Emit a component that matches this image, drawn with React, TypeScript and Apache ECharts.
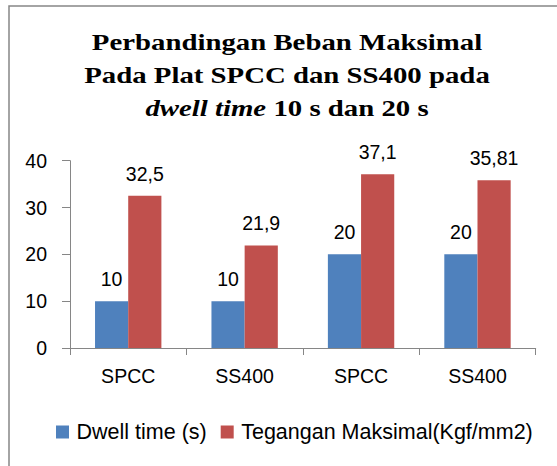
import React, { useEffect, useRef } from "react";
import * as echarts from "echarts";

const categories = ["SPCC", "SS400", "SPCC", "SS400"];
const dwellTime = [10, 10, 20, 20];
const teganganMaks = [32.5, 21.9, 37.1, 35.81];
const seriesNames = ["Dwell time (s)", "Tegangan Maksimal(Kgf/mm2)"];
const yTicks = { min: 0, max: 40, interval: 10 };

const SANS = '"Liberation Sans", Arial, sans-serif';
const SERIF = '"Liberation Serif", "Times New Roman", serif';
const AXIS_COLOR = "#868686";

export default function App() {
  const ref = useRef<HTMLDivElement>(null);
  useEffect(() => {
    if (!ref.current) return;
    const chart = echarts.init(ref.current, null, { renderer: "svg" });
    const fmt = (p: any) => String(p.value).replace(".", ",");
    const labelStyle = {
      show: true,
      position: "top",
      distance: 12,
      fontSize: 19.5,
      fontFamily: SANS,
      color: "#000",
      formatter: fmt,
    };
    chart.setOption({
      animation: false,
      backgroundColor: "#fff",
      graphic: [
        {
          type: "rect",
          z: -1,
          shape: { x: 9, y: 6, width: 600, height: 520 },
          style: { fill: "none", stroke: AXIS_COLOR, lineWidth: 1.5 },
        },
        {
          type: "text",
          x: 287,
          y: 25,
          scaleX: 1.2,
          style: {
            text:
              "{b|Perbandingan Beban Maksimal}\n{b|Pada Plat SPCC dan SS400 pada}\n{i|dwell time}{b| 10 s dan 20 s}",
            align: "center",
            verticalAlign: "top",
            fill: "#000",
            fontFamily: SERIF,
            fontSize: 24,
            fontWeight: "bold",
            rich: {
              b: {
                fontFamily: SERIF,
                fontSize: 24,
                fontWeight: "bold",
                lineHeight: 33,
                align: "center",
                fill: "#000",
              },
              i: {
                fontFamily: SERIF,
                fontSize: 24,
                fontWeight: "bold",
                fontStyle: "italic",
                lineHeight: 33,
                align: "center",
                fill: "#000",
              },
            },
          },
        },
      ],
      legend: {
        left: 51,
        top: 416,
        itemWidth: 13,
        itemHeight: 13,
        itemGap: 14,
        icon: "rect",
        textStyle: {
          fontSize: 21.5,
          fontFamily: SANS,
          color: "#000",
          lineHeight: 22,
          padding: [0, 0, 0, 2.5],
        },
        data: seriesNames,
      },
      grid: { left: 70, right: 21.3, top: 160.7, bottom: 118, containLabel: false },
      xAxis: {
        type: "category",
        data: categories,
        axisLine: { show: true, lineStyle: { color: AXIS_COLOR, width: 1 } },
        axisTick: { show: true, length: 7, lineStyle: { color: AXIS_COLOR } },
        axisLabel: { fontSize: 19.5, fontFamily: SANS, color: "#000", margin: 18 },
        splitLine: { show: false },
      },
      yAxis: {
        type: "value",
        min: yTicks.min,
        max: yTicks.max,
        interval: yTicks.interval,
        axisLine: { show: true, lineStyle: { color: AXIS_COLOR, width: 1 } },
        axisTick: { show: true, length: 8, lineStyle: { color: AXIS_COLOR } },
        axisLabel: { fontSize: 19.5, fontFamily: SANS, color: "#000", margin: 23 },
        splitLine: { show: false },
      },
      series: [
        {
          name: seriesNames[0],
          type: "bar",
          data: dwellTime,
          barGap: "0%",
          barCategoryGap: "43%",
          itemStyle: { color: "#4F81BD" },
          label: labelStyle,
        },
        {
          name: seriesNames[1],
          type: "bar",
          data: teganganMaks,
          barGap: "0%",
          barCategoryGap: "43%",
          itemStyle: { color: "#C0504D" },
          label: labelStyle,
        },
      ],
    });
    return () => chart.dispose();
  }, []);
  return (
    <div
      ref={ref}
      style={{ position: "absolute", left: 0, top: 0, width: 557, height: 466 }}
    />
  );
}
